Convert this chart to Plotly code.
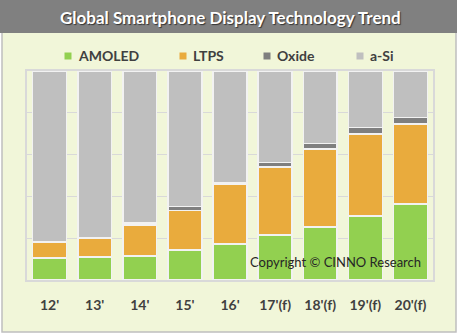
import plotly.graph_objects as go

years = ["12'", "13'", "14'", "15'", "16'", "17'(f)", "18'(f)", "19'(f)", "20'(f)"]
amoled = [10.5, 11.0, 11.5, 14.4, 17.2, 21.6, 25.4, 30.7, 36.4]
ltps = [7.5, 8.9, 14.8, 18.8, 28.7, 32.5, 37.3, 39.2, 38.2]
oxide = [0.3, 0.3, 1.0, 1.9, 0.6, 2.1, 2.7, 3.0, 3.2]
asi = [round(100 - a - b - c, 1) for a, b, c in zip(amoled, ltps, oxide)]

names = ["AMOLED", "LTPS", "Oxide", "a-Si"]
colors = ["#92D050", "#E9AB3D", "#7F7F7F", "#BFBFBF"]
series = [amoled, ltps, oxide, asi]

CREAM = "#F1F6D9"

fig = go.Figure()
for n, c, s in zip(names, colors, series):
    fig.add_trace(go.Bar(x=years, y=s, name=n, showlegend=False,
                         marker=dict(color=c, line=dict(color="#F2F2F2", width=1.5))))

W, H = 458, 335
L, R, T, B = 27, 25, 71, 55
pw, ph = W - L - R, H - T - B

def px(x):
    return (x - L) / pw

def py(y):
    return (H - B - y) / ph

shapes = [
    # outer frame
    dict(type="rect", xref="paper", yref="paper", x0=px(2), x1=px(456), y0=py(332), y1=py(0),
         line=dict(color="#BFBFBF", width=1.5), fillcolor=CREAM, layer="below"),
    # title band
    dict(type="rect", xref="paper", yref="paper", x0=px(0), x1=px(457), y0=py(33), y1=py(0),
         line=dict(width=0), fillcolor="#808080", layer="below"),
]

annotations = [
    dict(text="<b>Global Smartphone Display Technology Trend</b>", xref="paper", yref="paper",
         x=px(230), y=py(17), showarrow=False, xanchor="center", yanchor="middle",
         font=dict(family="Lato", size=17, color="white", shadow="1px 1px 1px #333333")),
    dict(text="Copyright © CINNO Research", xref="paper", yref="paper",
         x=px(335), y=py(262), showarrow=False, xanchor="center", yanchor="middle",
         font=dict(family="Lato", size=13, color="#262626")),
]

# legend (built from series names / colours)
legend_text_x = [77, 192, 276, 369]
for n, c, tx in zip(names, colors, legend_text_x):
    shapes.append(dict(type="rect", xref="paper", yref="paper",
                       x0=px(tx - 12.5), x1=px(tx - 5.5), y0=py(59.5), y1=py(52.5),
                       line=dict(width=0), fillcolor=c))
    annotations.append(dict(text="<b>%s</b>" % n, xref="paper", yref="paper",
                            x=px(tx - 1), y=py(56), showarrow=False, xanchor="left", yanchor="middle",
                            font=dict(family="Lato", size=14, color="#404040")))

fig.update_layout(
    width=W, height=H,
    margin=dict(l=L, r=R, t=T, b=B),
    paper_bgcolor="white",
    plot_bgcolor="rgba(0,0,0,0)",
    barmode="stack",
    bargap=0.25,
    showlegend=False,
    shapes=shapes,
    annotations=annotations,
    xaxis=dict(showgrid=False, showline=True, linecolor="#D9D9D9", linewidth=1.5, mirror=True,
               ticks="", ticklabelstandoff=11,
               tickfont=dict(family="Lato", size=14, color="#404040", weight="bold")),
    yaxis=dict(range=[0, 100], dtick=20, showgrid=True, gridcolor="#D9D9D9", gridwidth=1,
               showline=True, linecolor="#D9D9D9", linewidth=1.5, mirror=True,
               showticklabels=False, ticks="", zeroline=False),
)

fig.write_html("out.html")
